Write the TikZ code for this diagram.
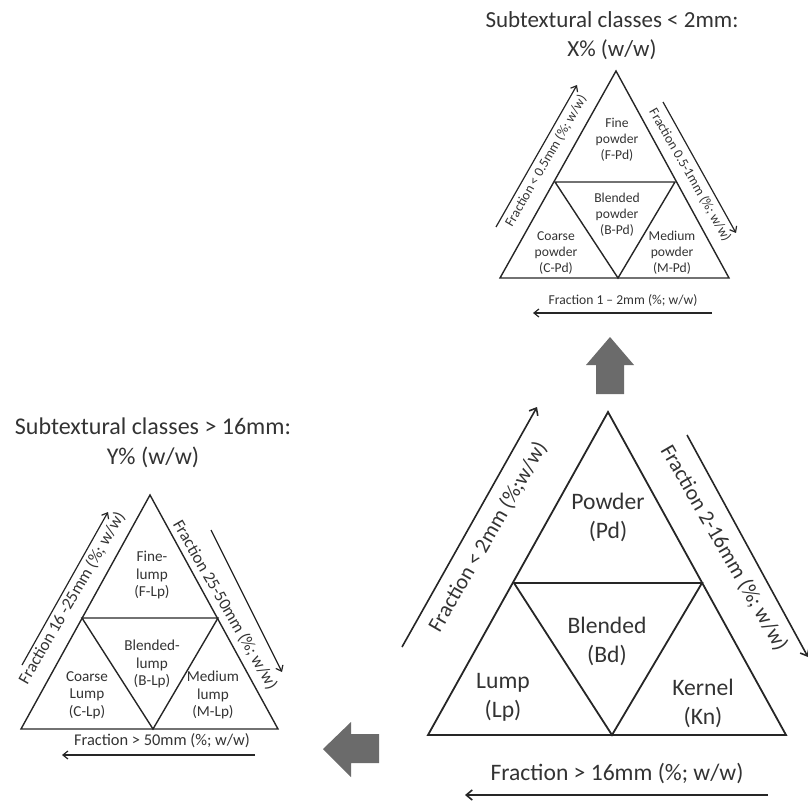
\documentclass[tikz,border=0pt]{standalone}
\usepackage{fontspec}
\setmainfont{Carlito}
\usetikzlibrary{arrows.meta}

\begin{document}
\begin{tikzpicture}[
  x=0.5pt, y=-0.5pt,
  tri/.style={draw=black!85, line width=0.9pt},
  trismall/.style={draw=black!85, line width=0.7pt},
  arr/.style={-{Straight Barb[length=3pt,width=5pt]}, draw=black!85, line width=0.8pt},
  arrsmall/.style={-{Straight Barb[length=2.5pt,width=4pt]}, draw=black!85, line width=0.6pt},
  bigtxt/.style={font=\fontsize{11.8}{14.5}\selectfont, align=center, text=black!80},
  bigside/.style={font=\fontsize{10.8}{13}\selectfont, text=black!80},
  toptxt/.style={font=\fontsize{6.8}{8}\selectfont, align=center, text=black!80},
  lefttxt/.style={font=\fontsize{7.6}{8.8}\selectfont, align=center, text=black!80},
  title/.style={font=\fontsize{11.5}{14.5}\selectfont, align=center, text=black!80},
  fatarrow/.style={fill=black!58, draw=none}
]
\useasboundingbox (0,0) rectangle (808,802);

% main triangle
\coordinate (bA) at (608,412);
\coordinate (bL) at (428,735);
\coordinate (bR) at (786,735);
\coordinate (bML) at (514,583);
\coordinate (bMR) at (702,583);
\coordinate (bMB) at (612,735);
\draw[tri] (bA) -- (bL) -- (bR) -- cycle;
\draw[tri] (bML) -- (bMR) -- (bMB) -- cycle;
\node[bigtxt] (pd) at (608,517) {Powder\\(Pd)};
\node[bigtxt] (bd) at (607,641) {Blended\\(Bd)};
\node[bigtxt] (lp) at (503,697) {Lump\\(Lp)};
\node[bigtxt] (kn) at (703,703) {Kernel\\(Kn)};
\coordinate (bl1) at (402,647);
\coordinate (bl2) at (537,407);
\coordinate (br1) at (687,435);
\coordinate (br2) at (808,657);
\coordinate (bb1) at (768,795);
\coordinate (bb2) at (465,795);
\draw[arr] (bl1) -- (bl2);
\draw[arr] (br1) -- (br2);
\draw[arr] (bb1) -- (bb2);
\node[bigside, rotate=60] (bltxt) at (488,537) {Fraction < 2mm (\%;w/w)};
\node[bigside, rotate=-60] (brtxt) at (724,548) {Fraction 2-16mm (\%; w/w)};
\node[bigtxt] (bbtxt) at (617,773) {Fraction > 16mm (\%; w/w)};

% top triangle (< 2mm)
\node[title] (ttitle) at (612,36) {Subtextural classes < 2mm:\\X\% (w/w)};
\coordinate (tA) at (616,71);
\coordinate (tL) at (500,278);
\coordinate (tR) at (729,278);
\coordinate (tML) at (555,182);
\coordinate (tMR) at (675,182);
\coordinate (tMB) at (618,278);
\draw[trismall] (tA) -- (tL) -- (tR) -- cycle;
\draw[trismall] (tML) -- (tMR) -- (tMB) -- cycle;
\node[toptxt] (fpd) at (617,140) {Fine\\powder\\(F-Pd)};
\node[toptxt] (bpd) at (617,215) {Blended\\powder\\(B-Pd)};
\node[toptxt] (cpd) at (556,253) {Coarse\\powder\\(C-Pd)};
\node[toptxt] (mpd) at (672,253) {Medium\\powder\\(M-Pd)};
\coordinate (tl1) at (496,227);
\coordinate (tl2) at (577,85);
\coordinate (tr1) at (663,102);
\coordinate (tr2) at (736,233);
\coordinate (tb1) at (712,313);
\coordinate (tb2) at (533,313);
\draw[arrsmall] (tl1) -- (tl2);
\draw[arrsmall] (tr1) -- (tr2);
\draw[arrsmall] (tb1) -- (tb2);
\node[toptxt, rotate=60] (tltxt) at (546,161) {Fraction < 0.5mm (\%; w/w)};
\node[toptxt, rotate=-60] (trtxt) at (690,175) {Fraction 0.5-1mm (\%; w/w)};
\node[toptxt] (tbtxt) at (623,300) {Fraction 1 -- 2mm (\%; w/w)};

% left triangle (> 16mm)
\node[title, font=\fontsize{12}{15}\selectfont] (ltitle) at (153,443) {Subtextural classes > 16mm:\\Y\% (w/w)};
\coordinate (lA) at (150,495);
\coordinate (lL) at (21,729);
\coordinate (lR) at (278,729);
\coordinate (lML) at (82,618);
\coordinate (lMR) at (218,618);
\coordinate (lMB) at (153,729);
\draw[trismall] (lA) -- (lL) -- (lR) -- cycle;
\draw[trismall] (lML) -- (lMR) -- (lMB) -- cycle;
\node[lefttxt] (flp) at (152,575) {Fine-\\lump\\(F-Lp)};
\node[lefttxt] (blp) at (152,664) {Blended-\\lump\\(B-Lp)};
\node[lefttxt] (clp) at (87,695) {Coarse\\Lump\\(C-Lp)};
\node[lefttxt] (mlp) at (213,695) {Medium\\lump\\(M-Lp)};
\coordinate (ll1) at (22,665);
\coordinate (ll2) at (108,512);
\coordinate (lr1) at (211,530);
\coordinate (lr2) at (282,672);
\coordinate (lb1) at (255,755);
\coordinate (lb2) at (62,755);
\draw[arrsmall] (ll1) -- (ll2);
\draw[arrsmall] (lr1) -- (lr2);
\draw[arrsmall] (lb1) -- (lb2);
\node[lefttxt, font=\fontsize{8.5}{10}\selectfont, rotate=60] (lltxt) at (72,598) {Fraction 16 -25mm (\%; w/w)};
\node[lefttxt, font=\fontsize{8.5}{10}\selectfont, rotate=-60] (lrtxt) at (225,605) {Fraction 25-50mm (\%; w/w)};
\node[lefttxt, font=\fontsize{8.2}{10}\selectfont] (lbtxt) at (162,741) {Fraction > 50mm (\%; w/w)};

% fat arrows
\fill[fatarrow] (610,337) -- (634,365) -- (624,365) -- (624,394) -- (596,394) -- (596,365) -- (586,365) -- cycle;
\fill[fatarrow] (323,749) -- (351,722) -- (351,734) -- (379,734) -- (379,763) -- (351,763) -- (351,777) -- cycle;
\end{tikzpicture}
\end{document}
